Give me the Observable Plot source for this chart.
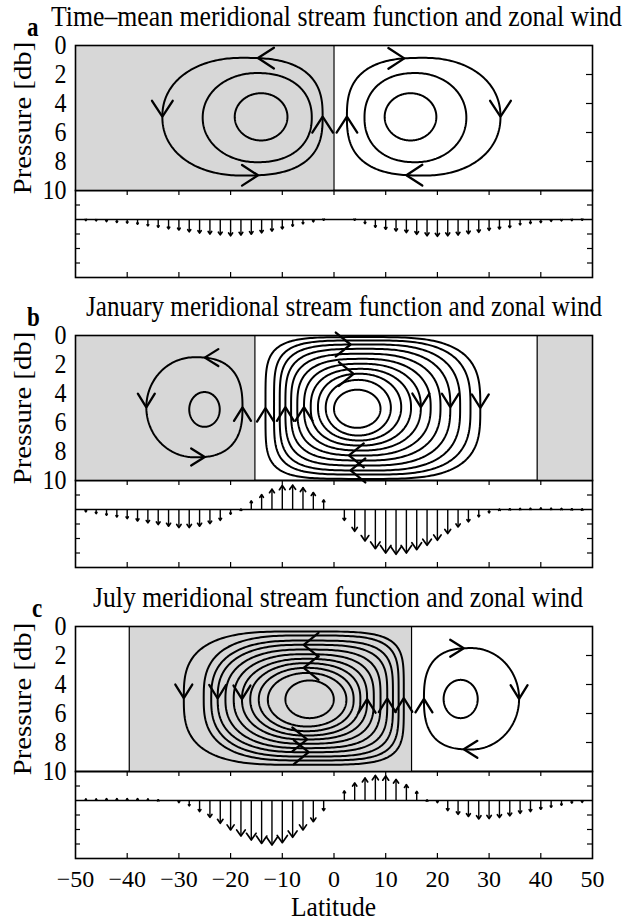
<!DOCTYPE html>
<html>
<head>
<meta charset="utf-8">
<script src="https://cdn.jsdelivr.net/npm/d3@7"></script>
<script src="https://cdn.jsdelivr.net/npm/@observablehq/plot@0.6"></script>
<style>
  html, body { margin: 0; padding: 0; background: #fff; }
  #figure { position: relative; width: 625px; height: 922px; overflow: hidden; background: #fff;
    font-family: "Liberation Serif", "Times New Roman", serif; color: #000; }
  #figure > svg { position: absolute; left: 0; }
  .title { position: absolute; font-size: 25.5px; line-height: 25.5px; white-space: nowrap;
    transform-origin: 0 21.4px; }
  .letter { position: absolute; font-size: 23px; line-height: 23px; font-weight: bold;
    transform: scale(1, 1.15); transform-origin: 0 19.3px; }
  .xlabel { position: absolute; width: 200px; text-align: center; font-size: 25.5px; line-height: 20px;
    transform: scale(1, 1.08); transform-origin: 50% 18.6px; }
</style>
</head>
<body>
<div id="figure"></div>
<script>
// ---------------------------------------------------------------- data
const latTicks = [-50, -40, -30, -20, -10, 0, 10, 20, 30, 40, 50];
const pressureTicks = [0, 2, 4, 6, 8, 10];
const windTicks = [-4, -3, -2, -1, 0, 1, 2];

// Zonal wind, one arrow every 2 degrees of latitude (positive = upward arrow)
const windLat = [-50, -48, -46, -44, -42, -40, -38, -36, -34, -32,
                 -30, -28, -26, -24, -22, -20, -18, -16, -14, -12,
                 -10, -8, -6, -4, -2, 0, 2, 4, 6, 8,
                 10, 12, 14, 16, 18, 20, 22, 24, 26, 28,
                 30, 32, 34, 36, 38, 40, 42, 44, 46, 48, 50];
const windTimeMean = [0, -0.07, -0.09, -0.14, -0.2, -0.25, -0.32, -0.44, -0.53, -0.64,
                      -0.72, -0.85, -0.93, -1.0, -1.06, -1.12, -1.07, -1.01, -0.92, -0.8,
                      -0.64, -0.46, -0.3, -0.16, -0.05, 0, 0, -0.05, -0.28, -0.53,
                      -0.67, -0.79, -0.9, -1.02, -1.12, -1.16, -1.12, -1.07, -0.98, -0.88,
                      -0.74, -0.65, -0.56, -0.37, -0.28, -0.21, -0.12, -0.09, -0.07, -0.05, 0];
const windJanuary = [0, -0.16, -0.28, -0.39, -0.51, -0.62, -0.79, -0.92, -1.04, -1.15,
                     -1.25, -1.25, -1.15, -0.97, -0.74, -0.32, 0.02, 0.58, 1.02, 1.4,
                     1.65, 1.68, 1.5, 1.17, 0.65, 0, -0.75, -1.5, -2.17, -2.7,
                     -3.0, -3.09, -3.0, -2.77, -2.47, -2.12, -1.66, -1.2, -0.85, -0.5,
                     -0.23, 0.02, 0.05, 0.07, 0.08, 0.1, 0.08, 0.07, 0.05, 0.04, 0];
const windJuly = [0, 0.1, 0.1, 0.12, 0.12, 0.12, 0.12, 0.1, 0.05, 0,
                  -0.14, -0.37, -0.76, -1.16, -1.57, -2.03, -2.45, -2.73, -2.96, -3.07,
                  -2.91, -2.54, -2.03, -1.46, -0.69, 0, 0.65, 1.2, 1.55, 1.73,
                  1.69, 1.45, 1.09, 0.62, 0.03, -0.14, -0.69, -0.95, -1.1, -1.27,
                  -1.25, -1.18, -1.06, -0.88, -0.76, -0.6, -0.46, -0.32, -0.18, -0.12, 0];

// Closed stream-function contours: [latMin, latMax, pMin, pMax], outermost first
const contoursTimeMeanSouth = [[-33.2, -2.2, 0.85, 8.97], [-25.4, -4.3, 1.9, 8.05], [-19.2, -9.0, 3.29, 6.55]];
const contoursTimeMeanNorth = [[2.5, 32.2, 0.85, 8.97], [5.9, 25.6, 1.9, 8.05], [9.8, 19.8, 3.29, 6.55]];
const contoursJanuarySouth = [[-36.3, -17.7, 1.5, 8.4], [-28.0, -22.1, 3.9, 6.3]];
const contoursJanuaryNorth = [
  [-13.25, 28.3, 0.11, 9.89], [-11.6, 26.4, 0.34, 9.59], [-10.5, 24.4, 0.62, 9.31],
  [-9.4, 22.5, 0.92, 8.97], [-8.3, 20.6, 1.26, 8.62], [-7.1, 18.7, 1.61, 8.28],
  [-5.8, 16.8, 1.95, 7.93], [-4.5, 14.9, 2.30, 7.59], [-3.1, 13.0, 2.64, 7.24],
  [-1.6, 11.0, 3.06, 6.90], [0.0, 9.0, 3.74, 6.37]];
const contoursJulySouth = [
  [-29.05, 13.5, 0.34, 9.54], [-25.2, 12.5, 0.62, 9.24], [-23.75, 11.4, 0.97, 8.97],
  [-22.5, 10.3, 1.26, 8.67], [-21.0, 9.0, 1.59, 8.39], [-19.4, 7.7, 1.91, 8.09],
  [-17.8, 6.4, 2.23, 7.79], [-16.2, 5.1, 2.53, 7.52], [-14.55, 3.8, 2.85, 7.22],
  [-12.8, 2.4, 3.2, 6.9], [-9.4, -0.04, 3.72, 6.32]];
const contoursJulyNorth = [[17.4, 35.8, 1.49, 8.48], [21.2, 27.8, 3.68, 6.32]];

// Flow arrows on the top / bottom of contours: [contour index, latitude]
const arrowTopTimeMeanSouth = [[0, -14.7]], arrowBottomTimeMeanSouth = [[0, -14.7]];
const arrowTopTimeMeanNorth = [[0, 13.6]], arrowBottomTimeMeanNorth = [[0, 14.0]];
const arrowTopJanuarySouth = [[0, -25.0]], arrowBottomJanuarySouth = [[0, -25.0]];
const arrowTopJanuaryNorth = [[2, 3.2], [8, 3.8]], arrowBottomJanuaryNorth = [[2, 3.2], [5, 2.9]];
const arrowTopJulySouth = [[3, -5.85], [8, -5.85]], arrowBottomJulySouth = [[3, -4.9], [6, -5.2]];
const arrowTopJulyNorth = [[0, 25.1]], arrowBottomJulyNorth = [[0, 25.1]];
// Contours carrying arrows on their poleward / equatorward flanks
const sideArrowsDense = [0, 3, 6];
const sideArrowsOuter = [0];

// Negative-stream-function (shaded) latitude bands
const shadedTimeMean = [[-50, 0]];
const shadedJanuary = [[-50, -15.3], [39.3, 50]];
const shadedJuly = [[-39.6, 15.0]];

// ---------------------------------------------------------------- layout & style
const WIDTH = 625, MARGIN_LEFT = 75, MARGIN_RIGHT = 33;
const STREAM_H = 145, WIND_H = 87, PAD = 15;
const FONT = "Liberation Serif, Times New Roman, serif";
const SHADE = "#d7d7d7";
const TICK = 5;
const TEXT_STRETCH = 1.15;
const STACK_ARROW = {len: 19, angle: 39};   // heads along the top/bottom of the dense cells

const panels = [
  {letter: "a", title: "Time\u2013mean meridional stream function and zonal wind", top: 45, titleX: 51, titleW: 571,
   shaded: shadedTimeMean, wind: windTimeMean, arrowLen: 19, arrowAngle: 33,
   cells: [
     {contours: contoursTimeMeanSouth, dir: "ccw", top: arrowTopTimeMeanSouth, bottom: arrowBottomTimeMeanSouth, sides: sideArrowsOuter, outer: [2.15, 2.7], inner: [2.0, 2.0]},
     {contours: contoursTimeMeanNorth, dir: "cw", top: arrowTopTimeMeanNorth, bottom: arrowBottomTimeMeanNorth, sides: sideArrowsOuter, outer: [2.7, 2.15], inner: [2.0, 2.0]}
   ]},
  {letter: "b", title: "January meridional stream function and zonal wind", top: 335, titleX: 86, titleW: 516,
   shaded: shadedJanuary, wind: windJanuary, arrowLen: 16, arrowAngle: 32,
   cells: [
     {contours: contoursJanuarySouth, dir: "ccw", top: arrowTopJanuarySouth, bottom: arrowBottomJanuarySouth, sides: sideArrowsOuter, outer: [2.0, 2.6], inner: [2.0, 2.0]},
     {contours: contoursJanuaryNorth, dir: "cw", top: arrowTopJanuaryNorth, bottom: arrowBottomJanuaryNorth, sides: sideArrowsDense, outer: [5.0, 3.2], inner: [2.0, 2.0], stacked: true}
   ]},
  {letter: "c", title: "July meridional stream function and zonal wind", top: 626, titleX: 93, titleW: 490,
   shaded: shadedJuly, wind: windJuly, arrowLen: 16, arrowAngle: 32, xAxis: true,
   cells: [
     {contours: contoursJulySouth, dir: "ccw", top: arrowTopJulySouth, bottom: arrowBottomJulySouth, sides: sideArrowsDense, outer: [3.0, 5.0], inner: [2.0, 2.0], stacked: true},
     {contours: contoursJulyNorth, dir: "cw", top: arrowTopJulyNorth, bottom: arrowBottomJulyNorth, sides: sideArrowsOuter, outer: [2.7, 2.0], inner: [2.0, 2.0]}
   ]}
];

// ---------------------------------------------------------------- scales used for arrow geometry
const xScale = Plot.scale({x: {type: "linear", domain: [-50, 50], range: [MARGIN_LEFT, WIDTH - MARGIN_RIGHT]}});
const pScale = Plot.scale({y: {type: "linear", domain: [0, 10], range: [0, STREAM_H]}});
const wScale = Plot.scale({y: {type: "linear", domain: [windTicks[0], windTicks[windTicks.length - 1]], range: [WIND_H, 0]}});
const pxPerDeg = Math.abs(xScale.apply(1) - xScale.apply(0));
const pxPerDb = Math.abs(pScale.apply(1) - pScale.apply(0));
const pxPerWind = Math.abs(wScale.apply(1) - wScale.apply(0));

// superellipse with separate exponents on the poleward/equatorward halves
function contourGeometry(c, n) {
  const [x0, x1, y0, y1] = c;
  return {cx: (x0 + x1) / 2, cy: (y0 + y1) / 2, a: (x1 - x0) / 2, b: (y1 - y0) / 2, n};
}
function contourLine(g, id) {
  const pts = [];
  const N = 260;
  for (let k = 0; k <= N; k++) {
    const t = 2 * Math.PI * k / N;
    const c = Math.cos(t), s = Math.sin(t);
    const e = c < 0 ? g.n[0] : g.n[1];
    pts.push({id, lat: g.cx + g.a * Math.sign(c) * Math.pow(Math.abs(c), 2 / e),
                  p: g.cy + g.b * Math.sign(s) * Math.pow(Math.abs(s), 2 / e)});
  }
  return pts;
}
function pointAtLat(g, lat, side) {
  let u = (lat - g.cx) / g.a;
  u = Math.max(-0.98, Math.min(0.98, u));
  const e = u < 0 ? g.n[0] : g.n[1];
  const v = Math.pow(1 - Math.pow(Math.abs(u), e), 1 / e);
  return side === "top" ? g.cy - g.b * v : g.cy + g.b * v;
}
// open chevron whose apex sits at (lat, p) pointing along screen direction (dx, dy)
function chevron(id, lat, p, dx, dy, len, angDeg) {
  const ang = angDeg * Math.PI / 180;
  const arm = s => {
    const c = Math.cos(s * ang), n = Math.sin(s * ang);
    const rx = dx * c - dy * n, ry = dx * n + dy * c;
    return {id, lat: lat - len * rx / pxPerDeg, p: p - len * ry / pxPerDb};
  };
  return [arm(1), {id, lat, p}, arm(-1)];
}
const DIRS = {
  cw:  {top: [1, 0], bottom: [-1, 0], left: [0, -1], right: [0, 1]},
  ccw: {top: [-1, 0], bottom: [1, 0], left: [0, 1], right: [0, -1]}
};

function stretchText(svg) {
  svg.querySelectorAll("text").forEach(t => {
    const tr = t.getAttribute("transform") || "";
    const s = /rotate\(-90/.test(tr) ? ` scale(${TEXT_STRETCH},1)` : ` scale(1,${TEXT_STRETCH})`;
    t.setAttribute("transform", (tr + s).trim());
  });
}

// ---------------------------------------------------------------- stream-function panel
function streamPlot(panel) {
  const lines = [], heads = [];
  let id = 0;
  panel.cells.forEach(cell => {
    const dirs = DIRS[cell.dir];
    const last = cell.contours.length - 1;
    const tb = cell.stacked ? STACK_ARROW : {len: panel.arrowLen, angle: panel.arrowAngle};
    const geoms = cell.contours.map((c, i) => {
      const f = last > 0 ? Math.pow(1 - i / last, 1.6) : 1;
      const n = [cell.inner[0] + (cell.outer[0] - cell.inner[0]) * f,
                 cell.inner[1] + (cell.outer[1] - cell.inner[1]) * f];
      const g = contourGeometry(c, n);
      lines.push(...contourLine(g, "c" + (id++)));
      return g;
    });
    cell.top.forEach(([i, lt]) =>
      heads.push(...chevron("h" + (id++), lt, pointAtLat(geoms[i], lt, "top"), ...dirs.top, tb.len, tb.angle)));
    cell.bottom.forEach(([i, lb]) =>
      heads.push(...chevron("h" + (id++), lb, pointAtLat(geoms[i], lb, "bottom"), ...dirs.bottom, tb.len, tb.angle)));
    cell.sides.forEach(i => {
      const c = cell.contours[i], g = geoms[i];
      heads.push(...chevron("h" + (id++), c[0], g.cy, ...dirs.left, panel.arrowLen, panel.arrowAngle));
      heads.push(...chevron("h" + (id++), c[1], g.cy, ...dirs.right, panel.arrowLen, panel.arrowAngle));
    });
  });
  const edges = panel.shaded.flat().filter(v => v > -50 && v < 50);
  const innerP = pressureTicks.filter(v => v > 0 && v < 10);
  const svg = Plot.plot({
    width: WIDTH, height: STREAM_H + 2 * PAD,
    marginLeft: MARGIN_LEFT, marginRight: MARGIN_RIGHT, marginTop: PAD, marginBottom: PAD,
    style: {background: "transparent", overflow: "visible", fontFamily: FONT, fontSize: "24px", color: "black"},
    x: {domain: [-50, 50], axis: null},
    y: {domain: [0, 10], reverse: true, ticks: pressureTicks, tickSize: 0, tickPadding: 9, label: null},
    marks: [
      Plot.ruleY(innerP, {x1: 50 - (TICK + 1) / pxPerDeg, x2: 50, stroke: "black", strokeWidth: 1.2}),
      Plot.rect(panel.shaded, {x1: d => d[0], x2: d => d[1], y1: 0, y2: 10, fill: SHADE}),
      Plot.ruleX(edges, {y1: 0, y2: 10, stroke: "black", strokeWidth: 1.2}),
      Plot.line(lines, {x: "lat", y: "p", z: "id", stroke: "black", strokeWidth: 2, curve: "linear"}),
      Plot.line(heads, {x: "lat", y: "p", z: "id", stroke: "black", strokeWidth: 2.3, strokeLinejoin: "miter", curve: "linear"}),
      Plot.frame({stroke: "black", strokeWidth: 1.6}),
      Plot.text(["Pressure [db]"], {text: d => d, frameAnchor: "left", textAnchor: "middle", lineAnchor: "middle",
                                    rotate: -90, dx: -53, fontSize: 25, fill: "black"})
    ]
  });
  stretchText(svg);
  svg.style.top = (panel.top - PAD) + "px";
  return svg;
}

// ---------------------------------------------------------------- zonal-wind panel
function windPlot(panel) {
  const arrows = windLat.map((lat, i) => ({lat, v: panel.wind[i]})).filter(d => d.v !== 0);
  const heads = [];
  const ang = 35 * Math.PI / 180;
  arrows.forEach((d, i) => {
    const len = Math.abs(d.v) * pxPerWind;
    const h = Math.max(1.3, 0.21 * len);
    const s = Math.sign(d.v);
    const dl = h * Math.sin(ang) / pxPerDeg, dw = h * Math.cos(ang) / pxPerWind;
    heads.push({id: i, lat: d.lat - dl, w: d.v - s * dw}, {id: i, lat: d.lat, w: d.v}, {id: i, lat: d.lat + dl, w: d.v - s * dw});
  });
  const wMin = windTicks[0], wMax = windTicks[windTicks.length - 1];
  const innerLat = latTicks.filter(v => v > -50 && v < 50);
  const innerW = windTicks.filter(v => v > wMin && v < wMax && v !== 0);
  const mb = panel.xAxis ? 40 : 5;
  const svg = Plot.plot({
    width: WIDTH, height: WIND_H + 5 + mb,
    marginLeft: MARGIN_LEFT, marginRight: MARGIN_RIGHT, marginTop: 5, marginBottom: mb,
    style: {background: "transparent", overflow: "visible", fontFamily: FONT, fontSize: "24px", color: "black"},
    x: panel.xAxis ? {domain: [-50, 50], ticks: latTicks, tickSize: 0, tickPadding: 11, label: null}
                   : {domain: [-50, 50], axis: null},
    y: {domain: [wMin, wMax], axis: null},
    marks: [
      Plot.ruleX(innerLat, {y1: wMax, y2: wMax - TICK / pxPerWind, stroke: "black", strokeWidth: 1.2}),
      Plot.ruleX(innerLat, {y1: wMin, y2: wMin + TICK / pxPerWind, stroke: "black", strokeWidth: 1.2}),
      Plot.ruleY(innerW, {x1: -50, x2: -50 + TICK / pxPerDeg, stroke: "black", strokeWidth: 1.2}),
      Plot.ruleY(innerW, {x1: 50 - TICK / pxPerDeg, x2: 50, stroke: "black", strokeWidth: 1.2}),
      Plot.ruleY([0], {stroke: "black", strokeWidth: 1.5}),
      Plot.ruleX(arrows, {x: "lat", y1: 0, y2: "v", stroke: "black", strokeWidth: 1.4}),
      Plot.line(heads, {x: "lat", y: "w", z: "id", stroke: "black", strokeWidth: 1.7, curve: "linear"}),
      Plot.frame({stroke: "black", strokeWidth: 1.6})
    ]
  });
  svg.style.top = (panel.top + STREAM_H - 5) + "px";
  return svg;
}

// ---------------------------------------------------------------- assemble
const fig = document.getElementById("figure");
panels.forEach(panel => {
  fig.appendChild(windPlot(panel));
  fig.appendChild(streamPlot(panel));
  const t = document.createElement("div");
  t.className = "title";
  t.textContent = panel.title;
  t.style.left = panel.titleX + "px";
  t.style.top = (panel.top - 19 - 21.4) + "px";
  fig.appendChild(t);
  const natural = t.getBoundingClientRect().width;
  t.style.transform = `scale(${(panel.titleW / natural).toFixed(4)}, ${TEXT_STRETCH})`;
  const l = document.createElement("div");
  l.className = "letter";
  l.textContent = panel.letter;
  l.style.left = (panel.letter === "c" ? 32 : 27) + "px";
  l.style.top = (panel.top - 9 - 19.3) + "px";
  fig.appendChild(l);
});
const xl = document.createElement("div");
xl.className = "xlabel";
xl.textContent = "Latitude";
xl.style.left = (333.5 - 100) + "px";
xl.style.top = (917 - 18.6) + "px";
fig.appendChild(xl);
</script>
</body>
</html>
